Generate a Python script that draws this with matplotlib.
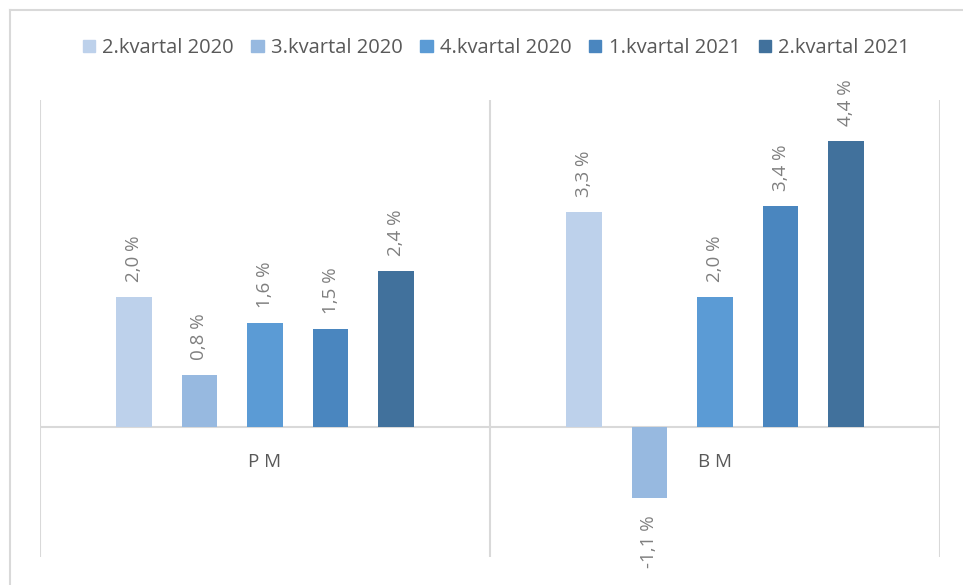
import numpy as np
import matplotlib
matplotlib.use('Agg')
import matplotlib.pyplot as plt
from matplotlib.patches import Patch
from matplotlib.lines import Line2D

plt.rcParams['font.family'] = ['Open Sans', 'DejaVu Sans']

categories = ['P M', 'B M']
series = ['2.kvartal 2020', '3.kvartal 2020', '4.kvartal 2020', '1.kvartal 2021', '2.kvartal 2021']
values = [
    [2.0, 3.3],
    [0.8, -1.1],
    [1.6, 2.0],
    [1.5, 3.4],
    [2.4, 4.4],
]
colors = ['#BDD1EB', '#97B9E0', '#5B9BD5', '#4A86BF', '#41719C']

fig = plt.figure(figsize=(9.63, 5.85), dpi=100)
ax = fig.add_axes([40/963, 1 - 557/585, 900/963, 457/585])

x = np.arange(len(categories))
step = 0.1456
width = 0.078
for i, (name, vals) in enumerate(zip(series, values)):
    pos = x + (i - 2) * step
    ax.bar(pos, vals, width, color=colors[i], label=name, zorder=3)
    for px, v in zip(pos, vals):
        txt = f'{v:.1f}'.replace('.', ',') + ' %'
        if v >= 0:
            ax.annotate(txt, (px, v), xytext=(0, 11), textcoords='offset points',
                        rotation=90, ha='center', va='bottom', color='#7F7F7F', fontsize=13.5)
        else:
            ax.annotate(txt, (px, v), xytext=(0, -12), textcoords='offset points',
                        rotation=90, ha='center', va='top', color='#7F7F7F', fontsize=13.5)

for i, c in enumerate(categories):
    ax.annotate(c, (x[i], 0), xytext=(0, -25), textcoords='offset points',
                ha='center', va='center', color='#595959', fontsize=13.5)

ax.set_xlim(-0.5, 1.5)
ax.set_ylim(-2.0, 5.03)
ax.axhline(0, color='#D9D9D9', lw=1.5, zorder=2)
for xv in [-0.5, 0.5, 1.5]:
    ax.axvline(xv, color='#D9D9D9', lw=1.5, zorder=2)
for s in ax.spines.values():
    s.set_visible(False)
ax.set_xticks([])
ax.set_yticks([])

# outer chart border (cut off at right and bottom)
fig.add_artist(Line2D([10/963, 10/963], [0, 1 - 10/585], color='#D9D9D9', lw=1.5))
fig.add_artist(Line2D([10/963, 1], [1 - 10/585, 1 - 10/585], color='#D9D9D9', lw=1.5))

handles = [Patch(color=c) for c in colors]
fig.legend(handles, series, loc='center', bbox_to_anchor=(496/963, 1 - 48/585), ncol=5,
           frameon=False, fontsize=14.5, handlelength=0.6, handleheight=0.6,
           handletextpad=0.35, columnspacing=0.9, labelcolor='#595959')

fig.savefig('out.png', dpi=100)
